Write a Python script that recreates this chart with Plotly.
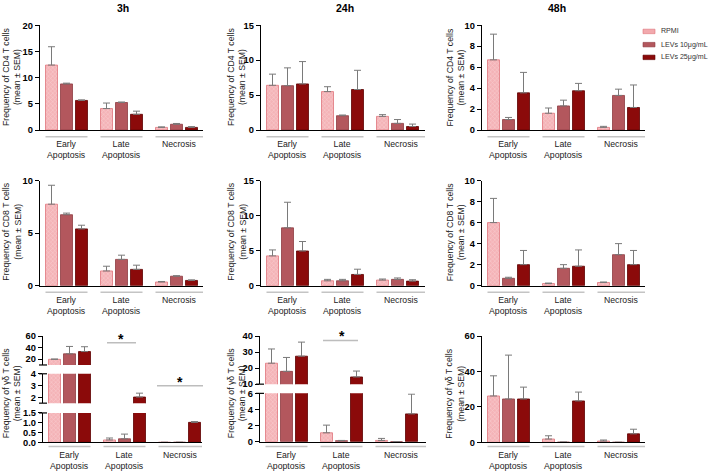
import plotly.graph_objects as go

# ---------------- data ----------------
categories = ["Early<br>Apoptosis", "Late<br>Apoptosis", "Necrosis"]
series_names = ["RPMI", "LEVs 10μg/mL", "LEVs 25μg/mL"]
time_points = ["3h", "24h", "48h"]
cell_types = ["CD4", "CD8", "γδ"]

# each *_mean / *_sem: one list per series [RPMI, LEVs 10, LEVs 25] over the categories
cd4_3h_mean = [[12.4, 4.1, 0.5], [8.8, 5.25, 1.1], [5.65, 3.0, 0.5]]
cd4_3h_sem = [[3.5, 1.05, 0.1], [0.15, 0.1, 0.15], [0.1, 0.6, 0.15]]
cd4_24h_mean = [[6.4, 5.5, 1.95], [6.35, 2.05, 0.95], [6.6, 5.8, 0.5]]
cd4_24h_sem = [[1.6, 0.7, 0.25], [2.55, 0.1, 0.55], [3.2, 2.75, 0.35]]
cd4_48h_mean = [[6.7, 1.6, 0.25], [1.0, 2.3, 3.3], [3.55, 3.75, 2.15]]
cd4_48h_sem = [[2.45, 0.5, 0.1], [0.2, 0.55, 0.6], [1.95, 0.7, 2.15]]

cd8_3h_mean = [[7.75, 1.4, 0.35], [6.75, 2.5, 0.9], [5.4, 1.55, 0.5]]
cd8_3h_sem = [[1.8, 0.45, 0.05], [0.15, 0.4, 0.05], [0.35, 0.4, 0.05]]
cd8_24h_mean = [[4.25, 0.7, 0.8], [8.25, 0.7, 0.9], [4.95, 1.6, 0.65]]
cd8_24h_sem = [[0.85, 0.2, 0.15], [3.65, 0.2, 0.2], [1.35, 0.75, 0.2]]
cd8_48h_mean = [[6.0, 0.2, 0.3], [0.7, 1.65, 2.95], [2.0, 1.85, 2.0]]
cd8_48h_sem = [[2.3, 0.05, 0.05], [0.1, 0.35, 1.05], [1.35, 1.55, 1.35]]

gd_3h_mean = [[19.8, 0.12, 0.0], [29.4, 0.18, 0.0], [33.3, 2.02, 1.02]]
gd_3h_sem = [[0.5, 0.1, None], [12.8, 0.24, None], [8.4, 0.33, 0.04]]
gd_24h_mean = [[23.1, 1.1, 0.15], [18.0, 0.12, 0.0], [27.5, 14.5, 3.45]]
gd_24h_sem = [[8.9, 0.95, 0.25], [8.7, 0.03, None], [8.8, 3.7, 2.45]]
gd_48h_mean = [[26.2, 1.85, 0.7], [24.5, 0.1, 0.0], [24.5, 23.4, 4.8]]
gd_48h_sem = [[11.4, 1.85, 0.6], [24.8, None, None], [6.7, 5.0, 2.6]]

# y axis ticks (segments listed bottom to top for broken axes)
cd4_3h_ticks = [[0, 5, 10, 15, 20]]
cd4_24h_ticks = [[0, 5, 10, 15]]
cd4_48h_ticks = [[0, 2, 4, 6, 8, 10]]
cd8_3h_ticks = [[0, 5, 10]]
cd8_24h_ticks = [[0, 5, 10, 15]]
cd8_48h_ticks = [[0, 2, 4, 6, 8, 10]]
gd_3h_ticks = [[0.0, 0.5, 1.0, 1.5], [2, 3, 4], [20, 40, 60]]
gd_24h_ticks = [[0, 2, 4, 6], [10, 20, 30, 40]]
gd_48h_ticks = [[0, 20, 40, 60]]

# y axis ranges per segment
cd4_3h_ranges = [[0, 20]]
cd4_24h_ranges = [[0, 15]]
cd4_48h_ranges = [[0, 10]]
cd8_3h_ranges = [[0, 10]]
cd8_24h_ranges = [[0, 15]]
cd8_48h_ranges = [[0, 10]]
gd_3h_ranges = [[0, 1.5], [1.5, 4], [10, 60]]
gd_24h_ranges = [[0, 6], [10, 40]]
gd_48h_ranges = [[0, 60]]

means = [[cd4_3h_mean, cd4_24h_mean, cd4_48h_mean],
         [cd8_3h_mean, cd8_24h_mean, cd8_48h_mean],
         [gd_3h_mean, gd_24h_mean, gd_48h_mean]]
sems = [[cd4_3h_sem, cd4_24h_sem, cd4_48h_sem],
        [cd8_3h_sem, cd8_24h_sem, cd8_48h_sem],
        [gd_3h_sem, gd_24h_sem, gd_48h_sem]]
ticks = [[cd4_3h_ticks, cd4_24h_ticks, cd4_48h_ticks],
         [cd8_3h_ticks, cd8_24h_ticks, cd8_48h_ticks],
         [gd_3h_ticks, gd_24h_ticks, gd_48h_ticks]]
ranges = [[cd4_3h_ranges, cd4_24h_ranges, cd4_48h_ranges],
          [cd8_3h_ranges, cd8_24h_ranges, cd8_48h_ranges],
          [gd_3h_ranges, gd_24h_ranges, gd_48h_ranges]]

# ---------------- layout (pixels) ----------------
W, H = 709, 476
FONT = "Liberation Sans, Arial, Helvetica, sans-serif"

axis_x = [[40, 261, 482], [40, 261, 482], [43, 260, 482]]
end_x = [[203, 425, 645], [203, 425, 645], [202, 426, 645]]
# (bottom px, top px) per segment
seg_px = [
    [[(127.7, 20.7)], [(127.7, 20.7)], [(127.7, 20.7)]],
    [[(286.7, 179.3)], [(286.7, 179.3)], [(286.7, 179.3)]],
    [[(446.7, 416.7), (406.7, 376.7), (367.7, 338.3)],
     [(446.0, 396.7), (387.3, 338.3)],
     [(446.7, 338.3)]],
]
UNIT = 55.0        # px per category
FIRST = 26.5       # px from y axis to first category centre
BW = 12.0 / UNIT   # bar width
STEP = 15.0 / UNIT # bar spacing
underline_y = [134.7, 293.3, 451.0]
label_top = [135.0, 294.0, 452.0]
ytitle_x = [11.5, 236.5, 455.0]
ytitle_y = [74, 232, 397]
title_x = [123, 345, 557]

fills = ["#f4b3b7", "#b3575d", "#8b0a0a"]
edges = ["#df747b", "#8e3b41", "#5e0000"]

def X(p):
    return p / W

def Y(p):
    return 1 - p / H

fig = go.Figure()
layout = dict(width=W, height=H, margin=dict(l=0, r=0, t=0, b=0),
              paper_bgcolor="white", plot_bgcolor="white",
              barmode="overlay", showlegend=False,
              font=dict(family=FONT, color="#000"))
shapes = []
annotations = []

next_extra = 10
for r in range(3):
    for c in range(3):
        k = r * 3 + c + 1
        xid = "x" if k == 1 else f"x{k}"
        xkey = "xaxis" if k == 1 else f"xaxis{k}"
        ax0, ax1 = axis_x[r][c], end_x[r][c]
        wpx = ax1 - ax0
        ncat = len(categories)
        layout[xkey] = dict(domain=[X(ax0), X(ax1)],
                            range=[-FIRST / UNIT, (wpx - FIRST) / UNIT],
                            showline=True, linecolor="#000", linewidth=1.4,
                            ticks="", showticklabels=False, showgrid=False,
                            zeroline=False, anchor=("y" if k == 1 else f"y{k}"))
        segs = seg_px[r][c]
        for si, (pb, pt) in enumerate(segs):
            if si == 0:
                ynum = k
            else:
                ynum = next_extra
                next_extra += 1
            yid = "y" if ynum == 1 else f"y{ynum}"
            ykey = "yaxis" if ynum == 1 else f"yaxis{ynum}"
            tv = ticks[r][c][si]
            fmt = ".1f" if any(isinstance(v, float) for v in tv) else "d"
            layout[ykey] = dict(domain=[Y(pb), Y(pt)], range=ranges[r][c][si],
                                anchor=xid, tickvals=tv, tickformat=fmt,
                                showline=True, linecolor="#000", linewidth=1.4,
                                ticks="outside", ticklen=4, tickwidth=1.2,
                                tickcolor="#000", showgrid=False, zeroline=False,
                                tickfont=dict(size=9.3, family=FONT, weight="bold", color="#000"))
            for s in range(len(series_names)):
                m = means[r][c][s]
                e = sems[r][c][s]
                em = [0 if v is not None else None for v in e]
                if s == 0:
                    marker = dict(color=fills[0],
                                  pattern=dict(shape="x", fgcolor="#fde8e9", bgcolor=fills[0],
                                               size=3, solidity=0.3),
                                  line=dict(color=edges[0], width=0.8))
                else:
                    marker = dict(color=fills[s], line=dict(color=edges[s], width=0.8))
                fig.add_trace(go.Bar(
                    x=list(range(ncat)), y=m, name=series_names[s],
                    width=BW, offset=-BW / 2 + (s - 1) * STEP,
                    marker=marker,
                    error_y=dict(type="data", symmetric=False, array=e, arrayminus=em,
                                 color="#7a7a7a", thickness=1, width=3.5),
                    xaxis=xid, yaxis=yid, showlegend=False))
            # break marks
            if len(segs) > 1:
                if si > 0:
                    shapes.append(dict(type="line", xref="paper", yref="paper",
                                       x0=X(ax0 - 4), x1=X(ax0 + 4), y0=Y(pb), y1=Y(pb),
                                       line=dict(color="#000", width=1.2)))
                if si < len(segs) - 1:
                    shapes.append(dict(type="line", xref="paper", yref="paper",
                                       x0=X(ax0 - 4), x1=X(ax0 + 4), y0=Y(pt), y1=Y(pt),
                                       line=dict(color="#000", width=1.2)))
        # category underlines + labels
        for i, cat in enumerate(categories):
            cx = ax0 + FIRST + UNIT * i
            x0 = cx - 21
            x1 = cx + 21 if i < ncat - 1 else ax1
            shapes.append(dict(type="line", xref="paper", yref="paper",
                               x0=X(x0), x1=X(x1), y0=Y(underline_y[r]), y1=Y(underline_y[r]),
                               line=dict(color="#c4c4c4", width=1.5)))
            annotations.append(dict(text=cat, x=X((x0 + x1) / 2), y=Y(label_top[r]),
                                    xref="paper", yref="paper", xanchor="center", yanchor="top",
                                    showarrow=False, font=dict(size=8.7, color="#222", family=FONT)))
        # y title
        annotations.append(dict(text=f"Frequency of {cell_types[r]} T cells<br>(mean ± SEM)",
                                x=X(ytitle_x[c]), y=Y(ytitle_y[r]), xref="paper", yref="paper",
                                xanchor="center", yanchor="middle", textangle=-90, showarrow=False,
                                font=dict(size=8.7, color="#222", family=FONT)))

# column titles
for c in range(3):
    annotations.append(dict(text=time_points[c], x=X(title_x[c]), y=Y(3.5), xref="paper", yref="paper",
                            xanchor="center", yanchor="middle", showarrow=False,
                            font=dict(size=10.5, color="#000", family=FONT, weight="bold")))

# significance marks
sig = [(121, 345, 107, 136), (180, 389, 157, 203), (341.5, 342.7, 323, 358)]
for sx, ly, lx0, lx1 in sig:
    shapes.append(dict(type="line", xref="paper", yref="paper", x0=X(lx0), x1=X(lx1),
                       y0=Y(ly), y1=Y(ly), line=dict(color="#bdbdbd", width=1.5)))
    annotations.append(dict(text="*", x=X(sx), y=Y(ly + 6), xref="paper", yref="paper",
                            xanchor="center", yanchor="bottom", showarrow=False,
                            font=dict(size=14, color="#000", family=FONT, weight="bold")))

# legend
leg_y = [27, 40.5, 53.5]
for s, nm in enumerate(series_names):
    shapes.append(dict(type="rect", xref="paper", yref="paper",
                       x0=X(643), x1=X(655), y0=Y(leg_y[s] + 2.3), y1=Y(leg_y[s] - 2.3),
                       fillcolor=(["#f2a9ad"] + fills[1:])[s], line=dict(color=edges[s], width=0.6)))
    annotations.append(dict(text=nm, x=X(660), y=Y(leg_y[s]), xref="paper", yref="paper",
                            xanchor="left", yanchor="middle", showarrow=False, borderpad=0,
                            font=dict(size=7.1, color="#333", family=FONT)))

layout["shapes"] = shapes
layout["annotations"] = annotations
fig.update_layout(**layout)
fig.write_html("out.html", config={"displayModeBar": False},
               post_script="document.body.style.margin='0';document.body.style.padding='0';")
